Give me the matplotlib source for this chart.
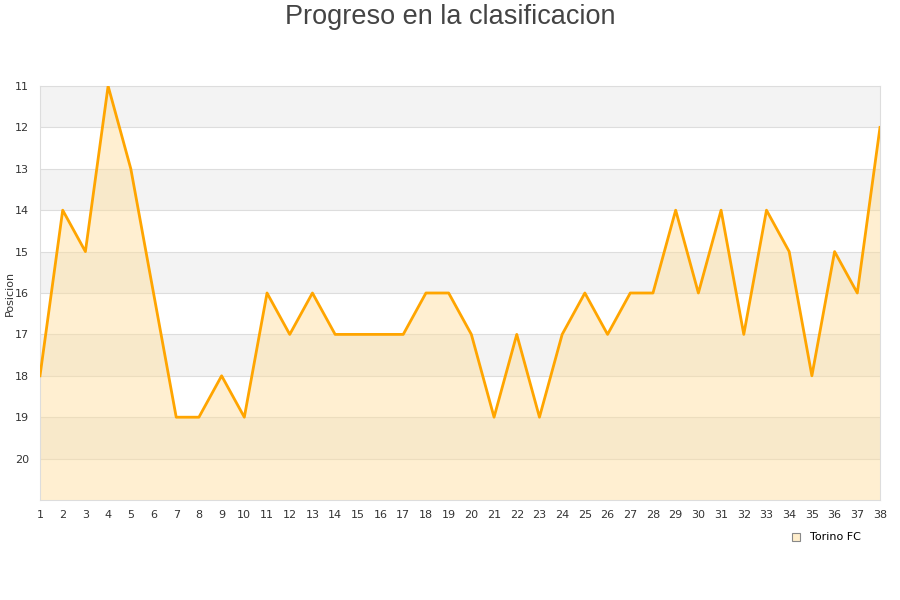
import matplotlib
matplotlib.use("Agg")
import matplotlib.pyplot as plt
from matplotlib.patches import Rectangle

# Posicion por jornada
jornadas = list(range(1, 39))
posicion = [18, 14, 15, 11, 13, 16, 19, 19, 18, 19,
            16, 17, 16, 17, 17, 17, 17, 16, 16, 17,
            19, 17, 19, 17, 16, 17, 16, 16, 14, 16,
            14, 17, 14, 15, 18, 15, 16, 12]
y_ticks = list(range(11, 21))
equipo = "Torino FC"

fig = plt.figure(figsize=(9, 6), dpi=100)
ax = fig.add_axes([40 / 900, 100 / 600, 840 / 900, 414 / 600])

ax.set_xlim(1, 38)
ax.set_ylim(21, 11)

# bandas alternas
for y0 in range(11, 21, 2):
    ax.axhspan(y0, y0 + 1, color="#f3f3f3", zorder=0, lw=0)
for y in range(12, 21):
    ax.axhline(y, color="#dddddd", lw=0.8, zorder=1)

ax.fill_between(jornadas, posicion, 21, color="#ffdd99", alpha=0.45, lw=0, zorder=2)
ax.plot(jornadas, posicion, color="#ffa500", lw=2.0, zorder=3)

ax.set_xticks(jornadas)
ax.set_yticks(y_ticks)
ax.tick_params(axis="both", length=0, labelsize=8, colors="#333333")
ax.tick_params(axis="y", pad=8)
ax.tick_params(axis="x", pad=7)
for s in ax.spines.values():
    s.set_color("#dddddd")
    s.set_linewidth(0.8)

ax.set_ylabel("Posicion", fontsize=8, color="#333333", va="center")
ax.yaxis.set_label_coords(-30 / 840, 0.5)

fig.text(0.5, 1 - 17 / 600, "Progreso en la clasificacion", ha="center", va="center",
         fontsize=19.5, color="#444444", family="Liberation Sans")

# leyenda
fig.patches.append(Rectangle((792 / 900, 1 - 541 / 600), 8 / 900, 8 / 600,
                             transform=fig.transFigure, facecolor="#ffeecc",
                             edgecolor="#888888", lw=0.8))
fig.text(810 / 900, 1 - 537 / 600, equipo, fontsize=8, va="center", color="#000000")

fig.savefig("out.png", dpi=100)
